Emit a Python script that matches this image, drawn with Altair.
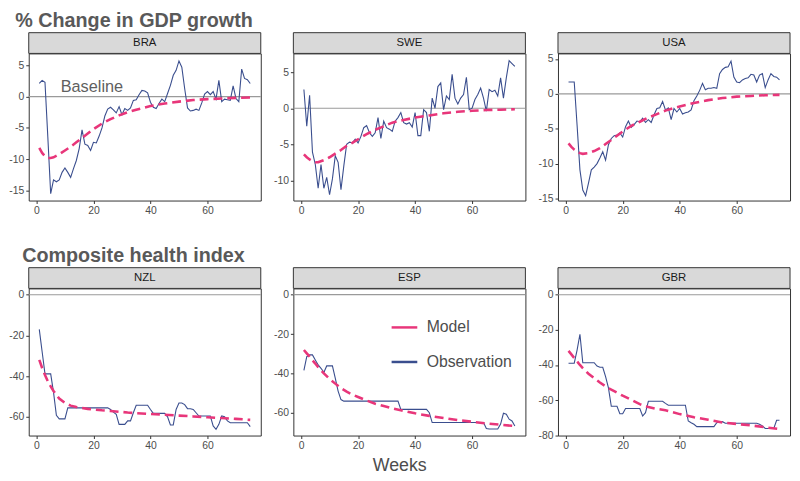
import altair as alt
import pandas as pd

FONT = "Liberation Sans"
PINK = "#E8367A"
BLUE = "#3A4E8E"

weeks = list(range(1, 76))
model_weeks = [1, 2, 3, 4, 5, 6, 8, 10, 12, 14, 16, 18, 20, 23, 26, 29, 32, 35,
               40, 45, 50, 55, 60, 65, 70, 75]
x_ticks = [0, 20, 40, 60]
x_domain = [-2.7, 78.7]

# ---- % change in GDP growth ----
bra_obs = [2.1, 2.6, 2.3, -6.5, -15.5, -13.3, -13.6, -13.3, -12.1, -11.4,
           -12.1, -12.9, -11.5, -10.2, -8.3, -5.3, -7.6, -7.8, -8.6, -7.3,
           -7.4, -6.3, -5.0, -3.1, -2.0, -1.7, -2.1, -2.6, -1.6, -2.9,
           -1.9, -2.2, -1.8, -0.6, -0.5, 0.3, 1.0, 0.9, 0.6, -0.9,
           -1.7, -1.9, -1.1, -0.4, -0.8, 0.5, 1.8, 3.4, 4.2, 5.7,
           4.7, 1.3, -1.8, -2.3, -2.2, -2.0, -2.2, -1.0, 0.4, 0.8,
           0.3, 0.8, -0.4, 2.6, -0.8, -0.4, -0.5, -0.6, 1.7, -0.3,
           -0.8, 4.4, 2.9, 2.7, 2.1]
bra_model = [-8.2, -9.0, -9.5, -9.8, -9.8, -9.7, -9.2, -8.6, -8.0, -7.3, -6.6, -5.9,
             -5.2, -4.3, -3.6, -3.0, -2.5, -2.1, -1.5, -1.1, -0.8, -0.55, -0.4,
             -0.3, -0.2, -0.15]

swe_obs = [2.6, -2.5, 1.8, -6.1, -7.8, -11.1, -7.8, -11.1, -9.6, -12.0,
           -9.8, -6.6, -7.5, -11.3, -8.0, -5.0, -4.7, -4.8, -4.3, -4.8,
           -3.9, -2.7, -2.4, -3.4, -3.9, -3.4, -1.3, -4.2, -1.8, -2.7,
           -2.9, -3.2, -1.8, -1.3, -0.6, -2.0, -2.2, -2.0, -2.6, -0.6,
           -3.8, -3.8, -0.2, -0.6, -3.2, 1.4, 0.0, 3.0, 3.5, -0.2,
           1.7, 1.2, 4.7, 1.4, 0.6, 1.4, 1.9, 4.3, -0.2, 0.0,
           1.2, 1.9, 2.8, 1.4, -0.4, 2.6, 2.3, 2.5, 1.7, 4.2,
           1.4, 4.2, 6.6, 6.2, 5.8]
swe_model = [-6.4, -6.8, -7.1, -7.35, -7.5, -7.5, -7.2, -6.8, -6.3, -5.8, -5.2, -4.8,
             -4.3, -3.6, -3.0, -2.5, -2.0, -1.7, -1.3, -1.0, -0.7, -0.5, -0.35,
             -0.25, -0.2, -0.15]

usa_obs = [1.7, 1.7, 1.7, -4.5, -10.9, -13.8, -14.6, -12.8, -10.9, -10.5,
           -10.0, -9.2, -8.3, -9.5, -7.3, -6.4, -6.0, -5.9, -5.6, -6.2,
           -4.7, -3.9, -4.8, -4.4, -3.9, -4.0, -3.5, -4.1, -3.7, -4.1,
           -3.0, -2.1, -2.0, -1.1, -2.3, -2.0, -3.7, -2.1, -2.6, -2.1,
           -2.9, -2.7, -2.6, -2.3, -1.0, -0.3, 0.5, 1.5, 0.6, 0.8,
           0.8, 0.9, 0.8, 2.9, 3.5, 3.8, 3.9, 4.7, 2.4, 1.7,
           1.6, 2.0, 2.2, 2.3, 2.8, 2.7, 1.7, 2.7, 2.9, 0.9,
           2.0, 2.9, 2.5, 2.4, 2.0]
usa_model = [-7.1, -7.6, -8.0, -8.3, -8.5, -8.6, -8.5, -8.2, -7.8, -7.2, -6.6, -6.0,
             -5.4, -4.6, -4.0, -3.4, -2.9, -2.4, -1.8, -1.3, -0.9, -0.6, -0.4,
             -0.3, -0.2, -0.15]

# ---- Composite health index ----
nzl_obs = [-17.0, -28.0, -38.9, -38.9, -38.9, -48.0, -59.3, -61.0, -61.0, -61.0,
           -55.6, -55.6, -55.6, -55.6, -55.6, -55.6, -55.6, -55.6, -55.6, -55.6,
           -55.6, -55.6, -55.6, -55.6, -55.6, -56.4, -57.7, -58.8, -63.7, -63.7,
           -63.7, -62.0, -62.0, -58.0, -54.3, -54.3, -54.3, -54.3, -54.3, -56.4,
           -58.3, -58.3, -58.3, -58.3, -58.3, -60.0, -64.0, -64.0, -56.4, -53.2,
           -53.2, -54.0, -56.0, -56.0, -56.4, -58.0, -59.6, -59.6, -59.6, -59.6,
           -59.6, -64.5, -66.1, -63.7, -59.6, -60.0, -62.0, -62.9, -62.9, -62.9,
           -62.9, -62.9, -62.9, -62.9, -64.8]
nzl_model = [-32.0, -36.0, -39.5, -42.5, -45.0, -47.3, -51.0, -53.2, -54.5, -55.2,
             -55.7, -56.1, -56.4, -56.8, -57.1, -57.5, -57.9, -58.2, -58.6, -59.0,
             -59.4, -59.8, -60.2, -60.6, -61.0, -61.5]

esp_obs = [-38.5, -31.5, -30.6, -30.6, -33.2, -35.7, -37.4, -39.5, -36.2, -36.2,
           -36.2, -42.4, -49.0, -53.3, -54.1, -54.1, -54.1, -54.1, -54.1, -54.1,
           -54.1, -54.1, -54.1, -54.1, -54.1, -54.1, -54.1, -54.1, -54.1, -54.1,
           -54.1, -54.1, -54.1, -54.1, -58.3, -58.3, -58.3, -58.3, -58.3, -58.3,
           -58.3, -58.3, -58.3, -58.3, -60.0, -65.0, -65.0, -65.0, -65.0, -65.0,
           -65.0, -65.0, -65.0, -65.0, -65.0, -65.0, -65.0, -65.0, -65.0, -65.0,
           -65.0, -65.0, -65.0, -65.0, -68.0, -68.3, -68.3, -68.3, -68.3, -65.8,
           -60.3, -60.8, -63.3, -64.2, -66.7]
esp_model = [-28.1, -29.8, -31.5, -33.3, -35.0, -36.8, -40.0, -42.8, -45.2, -47.5,
             -49.3, -50.8, -52.0, -53.8, -55.4, -56.6, -57.8, -58.8, -60.3, -61.6,
             -62.7, -63.7, -64.6, -65.4, -66.1, -66.8]

gbr_obs = [-39.0, -39.0, -39.0, -31.5, -22.5, -38.7, -38.7, -38.7, -38.7, -38.7,
           -40.6, -41.3, -41.3, -46.6, -53.1, -63.5, -63.5, -63.5, -67.8, -67.8,
           -64.8, -64.8, -64.8, -64.8, -64.8, -64.8, -69.1, -67.2, -60.7, -60.7,
           -60.7, -60.7, -60.7, -60.7, -61.9, -62.9, -62.9, -62.9, -62.9, -62.9,
           -62.9, -62.9, -71.9, -72.9, -73.8, -75.1, -75.1, -75.1, -75.1, -75.1,
           -75.1, -75.1, -72.9, -72.5, -72.3, -73.2, -73.2, -73.2, -73.2, -73.2,
           -73.2, -73.2, -73.2, -73.2, -73.2, -73.2, -73.2, -73.8, -74.7, -76.2,
           -76.2, -76.2, -76.2, -71.5, -71.5]
gbr_model = [-32.0, -34.0, -36.0, -38.0, -40.0, -41.8, -45.0, -47.5, -50.0, -52.2,
             -54.1, -55.8, -57.5, -59.8, -62.3, -64.0, -65.0, -65.8, -68.0, -69.8,
             -71.2, -72.8, -73.6, -74.4, -75.5, -76.5]

baseline_note = {"week": [8.5], "value": [1.5], "text": ["Baseline"]}

W = 235
H1 = 149
H2 = 149

color_scale = alt.Scale(domain=["Model", "Observation"], range=[PINK, BLUE])
legend = alt.Legend(orient="none", legendX=366, legendY=263, title=None,
                    symbolType="stroke", symbolSize=676, symbolStrokeWidth=2.5,
                    labelFontSize=16, labelColor="#4d4d4d", labelFont=FONT,
                    labelOffset=8, rowPadding=12, padding=0)


def panel(code, obs, model, ydom, yticks, h, with_baseline=False):
    obs_df = pd.DataFrame({"week": weeks, "value": obs, "series": "Observation"})
    mod_df = pd.DataFrame({"week": model_weeks, "value": model, "series": "Model"})
    xs = alt.X("week:Q", scale=alt.Scale(domain=x_domain, nice=False, zero=False),
               axis=alt.Axis(values=x_ticks, title=None, labelExpr="toString(datum.value)"))
    ys = alt.Y("value:Q", scale=alt.Scale(domain=ydom, nice=False, zero=False),
               axis=alt.Axis(values=yticks, title=None, labelExpr="toString(datum.value)"))
    col = alt.Color("series:N", scale=color_scale, legend=legend)
    zero = alt.Chart(pd.DataFrame({"value": [0]})).mark_rule(
        color="#9a9a9a", strokeWidth=1.2).encode(y=ys)
    obs_line = alt.Chart(obs_df).mark_line(strokeWidth=1.1).encode(x=xs, y=ys, color=col)
    mod_line = alt.Chart(mod_df).mark_line(strokeWidth=2.6, strokeDash=[9, 5]).encode(
        x=xs, y=ys, color=col)
    strip_df = pd.DataFrame({"label": [code]})
    strip = alt.Chart(strip_df).mark_rect(fill="#d9d9d9", stroke="#333333", strokeWidth=1).encode(
        x=alt.value(0), x2=alt.value(W), y=alt.value(-21), y2=alt.value(0))
    strip_txt = alt.Chart(strip_df).mark_text(
        font=FONT, fontSize=11.5, fontWeight="normal", color="#1a1a1a",
        baseline="middle", align="center").encode(
        x=alt.value(W / 2), y=alt.value(-10.5), text="label:N")
    layers = [zero, obs_line, mod_line, strip, strip_txt]
    if with_baseline:
        note = alt.Chart(pd.DataFrame(baseline_note)).mark_text(
            font=FONT, fontSize=16.5, color="#5f5f5f", align="left", baseline="middle").encode(
            x=xs, y=ys, text="text:N")
        layers.append(note)
    return alt.layer(*layers).properties(width=W, height=h)


row1 = alt.hconcat(
    panel("BRA", bra_obs, bra_model, [-16.6, 6.9], [-15, -10, -5, 0, 5], H1, with_baseline=True),
    panel("SWE", swe_obs, swe_model, [-12.8, 7.6], [-10, -5, 0, 5], H1),
    panel("USA", usa_obs, usa_model, [-15.3, 5.8], [-15, -10, -5, 0, 5], H1),
    spacing=10,
    title=alt.TitleParams("% Change in GDP growth", anchor="start", fontSize=20,
                          fontWeight="bold", color="#595959", font=FONT, dx=7, offset=1),
)
row2 = alt.hconcat(
    panel("NZL", nzl_obs, nzl_model, [-69.2, 3.1], [-60, -40, -20, 0], H2),
    panel("ESP", esp_obs, esp_model, [-71.6, 3.2], [-60, -40, -20, 0], H2),
    panel("GBR", gbr_obs, gbr_model, [-80.2, 3.6], [-80, -60, -40, -20, 0], H2),
    spacing=10,
    title=alt.TitleParams("Composite health index", anchor="start", fontSize=20,
                          fontWeight="bold", color="#595959", font=FONT, dx=14, offset=1),
)

chart = alt.vconcat(
    row1, row2, spacing=30,
    title=alt.TitleParams("Weeks", orient="bottom", anchor="middle", fontSize=18,
                          fontWeight="normal", color="#4d4d4d", font=FONT, offset=6),
).properties(
    padding={"left": 0, "top": 0, "right": 0, "bottom": 0}
).configure_view(
    stroke="#333333", strokeWidth=1
).configure_axis(
    labelFont=FONT, labelFontSize=10.5, labelColor="#4d4d4d", tickColor="#333333",
    tickSize=3, labelPadding=2, domain=False, grid=False
).resolve_scale(y="independent")

chart.save("out.html", embed_options={"renderer": "svg", "actions": False})
